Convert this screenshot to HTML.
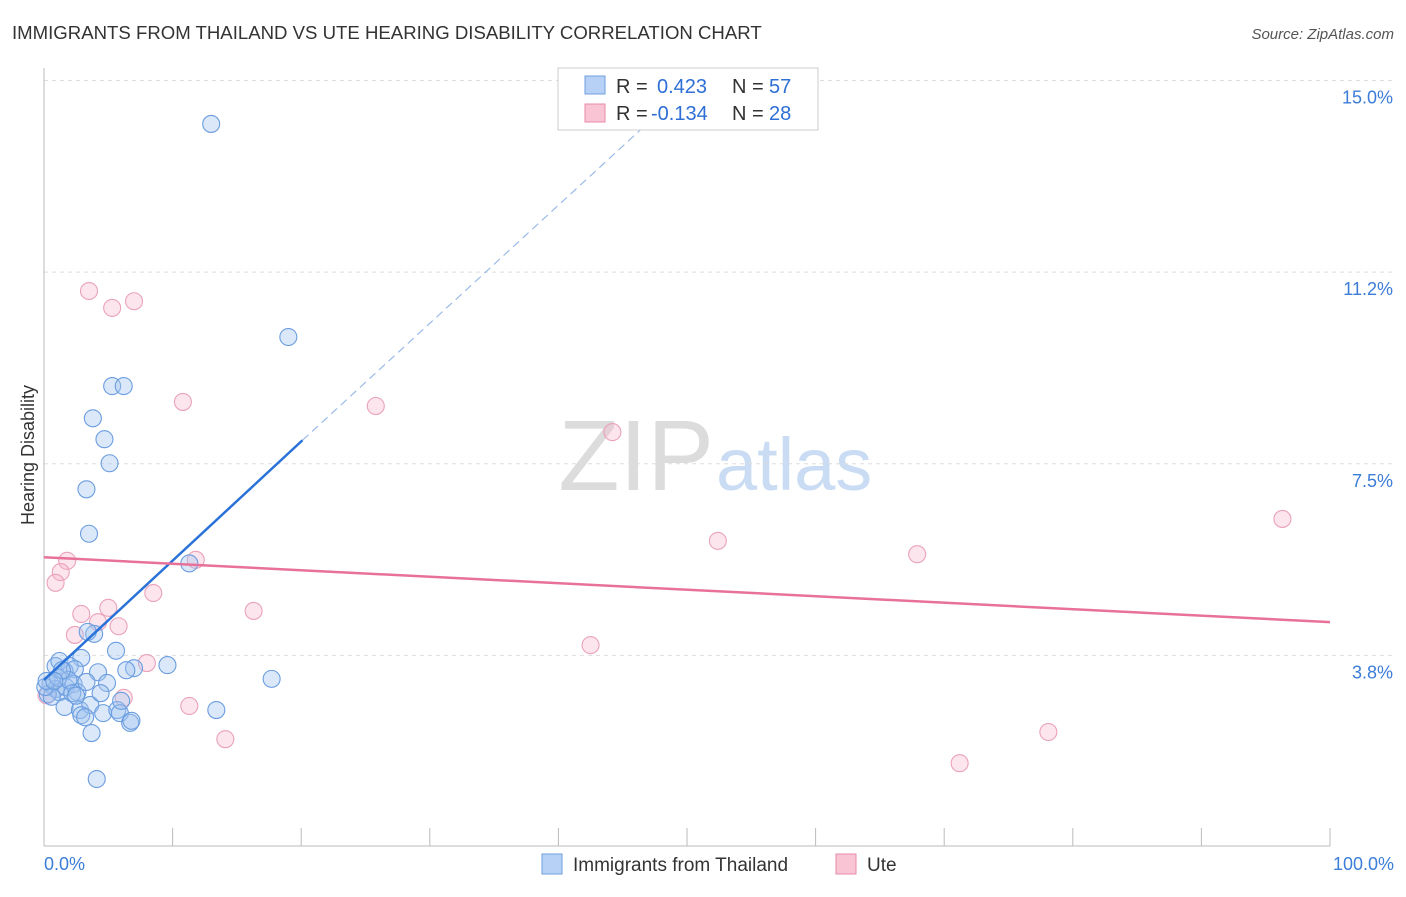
<!DOCTYPE html>
<html><head><meta charset="utf-8"><style>
body{margin:0;background:#fff;font-family:"Liberation Sans",sans-serif}
svg text{font-family:"Liberation Sans",sans-serif}
</style></head><body>
<svg id="c" width="1406" height="892">
<text x="12" y="39" font-size="18.6" fill="#333">IMMIGRANTS FROM THAILAND VS UTE HEARING DISABILITY CORRELATION CHART</text>
<text x="1394" y="39" font-size="15" fill="#555" font-style="italic" text-anchor="end">Source: ZipAtlas.com</text>
<text x="714" y="490" font-size="100" fill="#dcdcdc" text-anchor="end" font-family="Liberation Serif">ZIP</text>
<text x="716" y="490" font-size="74" fill="#c9dcf3">atlas</text>
<text transform="translate(34,455) rotate(-90)" font-size="18" fill="#333" text-anchor="middle">Hearing Disability</text>
<g id="grid"></g><g id="pts"></g><g id="lines"></g>
<g>
<rect x="558" y="68" width="260" height="62" fill="#fff" stroke="#ccc"/>
<rect x="585" y="76" width="20" height="18" fill="#b6d1f5" stroke="#6d9fe0"/>
<text x="616" y="93" font-size="20" fill="#333">R =</text>
<text x="657" y="93" font-size="20" fill="#2d6fd6">0.423</text>
<text x="732" y="93" font-size="20" fill="#333">N =</text>
<text x="769" y="93" font-size="20" fill="#2d6fd6">57</text>
<rect x="585" y="104" width="20" height="18" fill="#f9c5d4" stroke="#e88aa8"/>
<text x="616" y="120" font-size="20" fill="#333">R =</text>
<text x="651" y="120" font-size="20" fill="#2d6fd6">-0.134</text>
<text x="732" y="120" font-size="20" fill="#333">N =</text>
<text x="769" y="120" font-size="20" fill="#2d6fd6">28</text>
</g>
<g>
<rect x="542" y="854" width="20" height="20" fill="#b6d1f5" stroke="#6d9fe0"/>
<text x="573" y="871" font-size="19" fill="#333">Immigrants from Thailand</text>
<rect x="836" y="854" width="20" height="20" fill="#f9c5d4" stroke="#e88aa8"/>
<text x="867" y="871" font-size="19" fill="#333">Ute</text>
</g>
</svg>
<script>
const yTicks=[3.75,7.5,11.25,15];
const yTickLabels=["3.8%","7.5%","11.2%","15.0%"];
const xTickLabels=["0.0%","100.0%"];
const blueX=[13.0,19.0,5.3,6.2,3.8,4.7,5.1,3.3,3.5,11.3,3.9,3.4,5.6,9.6,7.0,6.4,17.7,4.2,4.9,2.9,0.9,1.2,2.0,1.6,2.4,0.5,0.9,1.2,1.7,2.3,2.6,3.3,0.3,0.6,1.6,2.8,3.6,4.6,5.7,5.9,6.7,6.8,13.4,2.9,3.2,3.7,4.1,6.0,0.1,0.2,1.1,1.9,2.2,2.5,1.4,0.8,4.4];
const blueY=[14.15,9.98,9.02,9.02,8.39,7.98,7.51,7.0,6.13,5.55,4.17,4.21,3.84,3.56,3.5,3.46,3.29,3.42,3.21,3.7,3.54,3.64,3.54,3.44,3.48,3.19,3.09,3.03,3.13,3.19,3.03,3.23,2.99,2.94,2.74,2.68,2.78,2.62,2.68,2.62,2.43,2.47,2.68,2.58,2.54,2.23,1.33,2.86,3.13,3.25,3.31,3.27,3.01,2.96,3.46,3.25,3.01];
const pinkX=[3.5,5.3,7.0,10.8,25.8,44.2,96.3,52.4,67.9,11.8,1.8,1.3,0.9,8.5,5.0,2.9,16.3,4.2,5.8,2.4,8.0,42.5,11.3,14.1,6.2,78.1,71.2,0.2];
const pinkY=[10.88,10.55,10.68,8.71,8.63,8.12,6.42,5.99,5.73,5.62,5.6,5.38,5.17,4.97,4.68,4.56,4.62,4.40,4.32,4.15,3.6,3.95,2.76,2.11,2.92,2.25,1.64,2.97];
const blueLine=[[0,3.27],[20.1,7.96],[47.1,14.2]];
const pinkLine=[[0,5.67],[100,4.40]];
const X=v=>44+v*12.86, Y=v=>847-v*51.1;
const NS="http://www.w3.org/2000/svg";
function mk(t,a,p){const e=document.createElementNS(NS,t);for(const k in a)e.setAttribute(k,a[k]);p.appendChild(e);return e;}
const grid=document.getElementById('grid');
yTicks.forEach((t,i)=>{
 const l=mk('line',{x1:44,x2:1394,y1:Y(t),y2:Y(t),stroke:'#ddd','stroke-dasharray':'4,4'},grid);
 
 
 const tx=mk('text',{x:1393,y:Y(t)+23,'font-size':18,fill:'#3b7dd8','text-anchor':'end'},grid);tx.textContent=yTickLabels[i];
 
 
});
mk('line',{x1:44,x2:44,y1:68,y2:846,stroke:'#bbb'},grid);
mk('line',{x1:44,x2:1330,y1:846,y2:846,stroke:'#bbb'},grid);
for(let i=0;i<=10;i++){const t=mk('line',{x1:X(i*10),x2:X(i*10),y1:828,y2:846,stroke:'#bbb'},grid);
 
 }
[[0,44,'start'],[100,1394,'end']].forEach((d,i)=>{const t=mk('text',{x:d[1],y:870,'font-size':18,fill:'#3b7dd8','text-anchor':d[2]},grid);t.textContent=xTickLabels[i];
 
 });
const pts=document.getElementById('pts');
pinkX.forEach((x,i)=>{const c=mk('circle',{cx:X(x),cy:Y(pinkY[i]),r:8.5,fill:'rgba(246,180,200,0.35)',stroke:'#eaa2ba','stroke-width':1.1},pts);
 
 });
blueX.forEach((x,i)=>{const c=mk('circle',{cx:X(x),cy:Y(blueY[i]),r:8.5,fill:'rgba(160,195,240,0.38)',stroke:'#6b9de0','stroke-width':1.1},pts);
 
 });
const lines=document.getElementById('lines');
let l=mk('line',{x1:X(blueLine[0][0]),y1:Y(blueLine[0][1]),x2:X(blueLine[1][0]),y2:Y(blueLine[1][1]),stroke:'#2a72d8','stroke-width':2.5},lines);


l=mk('line',{x1:X(blueLine[1][0]),y1:Y(blueLine[1][1]),x2:X(blueLine[2][0]),y2:Y(blueLine[2][1]),stroke:'#9bbbe8','stroke-width':1.2,'stroke-dasharray':'8,5'},lines);


l=mk('line',{x1:X(pinkLine[0][0]),y1:Y(pinkLine[0][1]),x2:X(pinkLine[1][0]),y2:Y(pinkLine[1][1]),stroke:'#e8719a','stroke-width':2.5},lines);


</script>
</body></html>
